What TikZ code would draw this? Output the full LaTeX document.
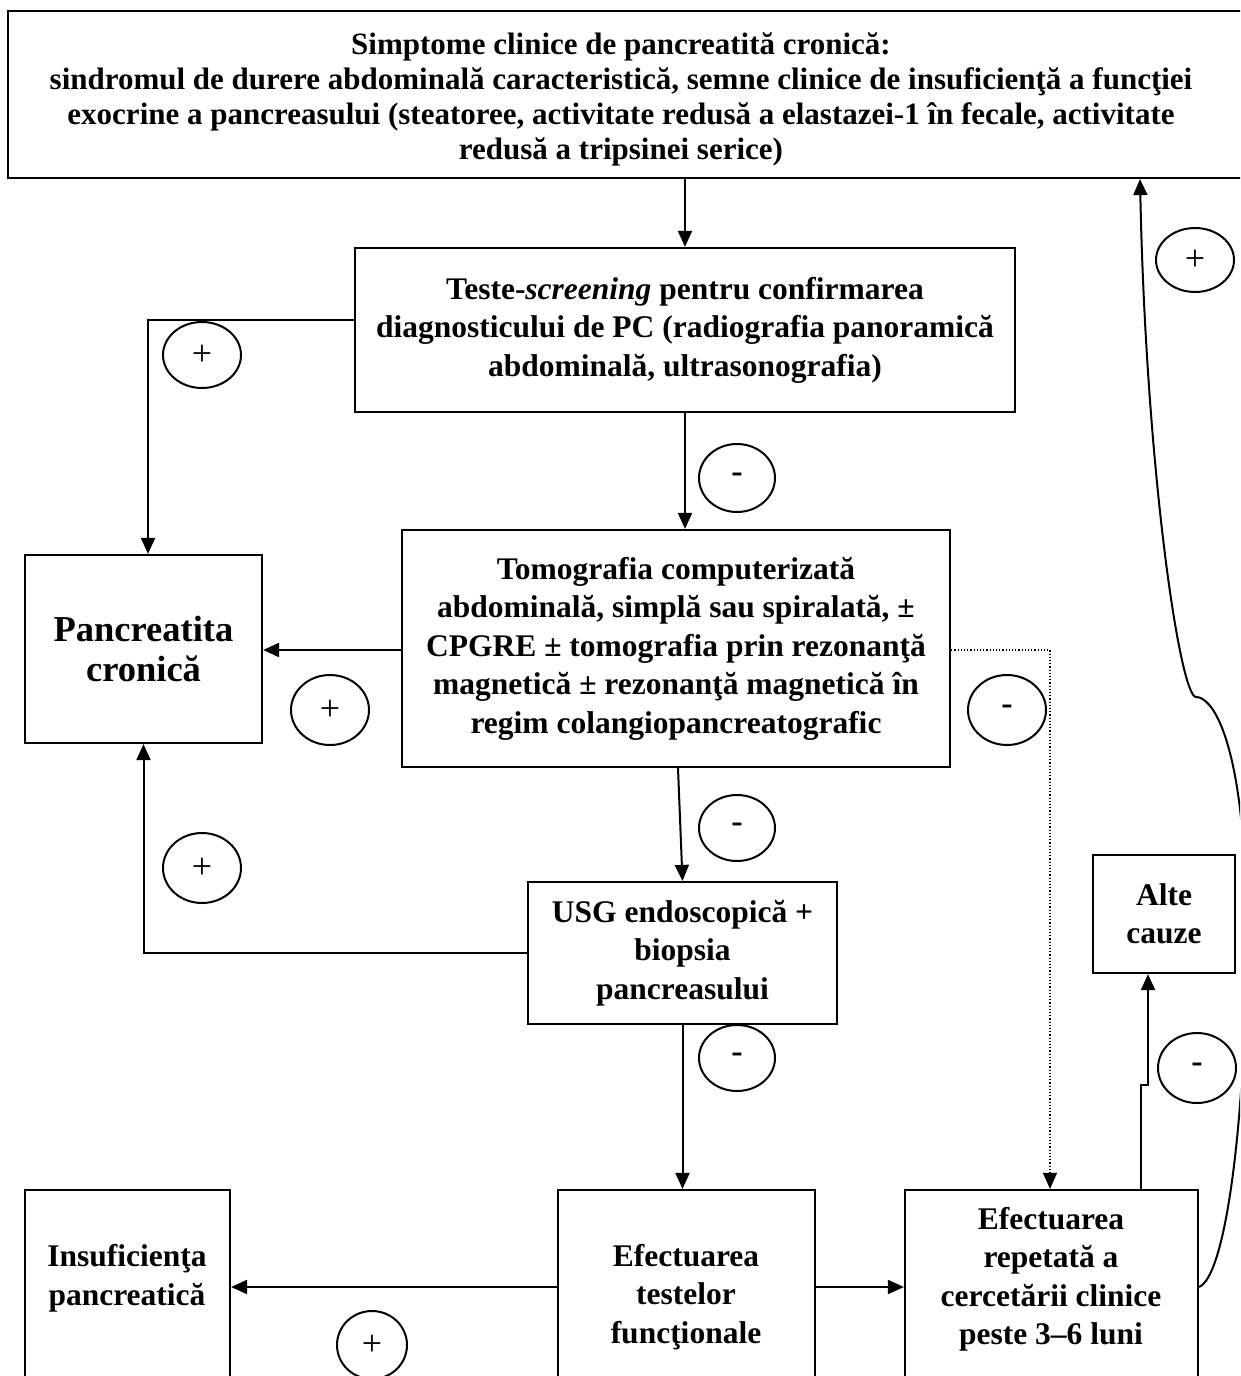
\documentclass[tikz,border=0pt]{standalone}
\usepackage{fontspec}
\setmainfont{Liberation Serif}
\usetikzlibrary{arrows.meta,shapes.geometric}
\newcommand\fbig{\fontsize{31.5}{38.5}\selectfont\bfseries}
\newcommand\ftop{\fontsize{31}{35}\selectfont\bfseries}
\newcommand\fpc{\fontsize{36.5}{40}\selectfont\bfseries}
\newcommand\mysign{\raisebox{-4pt}{-}}
\tikzset{
  box/.style={draw, line width=2.2pt, inner sep=0pt, align=center, font=\fbig},
  lbl/.style={inner sep=0pt, align=center, font=\fbig},
  arr/.style={line width=2pt, -{Triangle[length=16pt,width=14pt]}},
  dotarr/.style={line width=1.2pt, dotted, -{Triangle[length=16pt,width=14pt]}},
  sign/.style={draw, ellipse, line width=2pt, inner sep=0pt},
  plus/.style={sign, font=\fontsize{36}{36}\selectfont},
  minus/.style={sign, font=\fontsize{34}{34}\selectfont\bfseries},
}
\begin{document}
\begin{tikzpicture}[x=1pt,y=-1pt]
\useasboundingbox (0,0) rectangle (1240,1376);
\clip (0,0) rectangle (1240,1376);
\fill[white] (0,0) rectangle (1240,1376);

% boxes
\node[box, minimum width=1242pt, minimum height=167pt] (top) at (629,94.5) {};
\node[lbl, font=\ftop] (ttop) at (621,99)
  {Simptome clinice de pancreatită cronică:\\
   sindromul de durere abdominală caracteristică, semne clinice de insuficienţă a funcţiei\\
   exocrine a pancreasului (steatoree, activitate redusă a elastazei-1 în fecale, activitate\\
   redusă a tripsinei serice)};
\node[box, minimum width=660pt, minimum height=164pt] (screen) at (685,330)
  {Teste-\textit{screening} pentru confirmarea\\
   diagnosticului de PC (radiografia panoramică\\
   abdominală, ultrasonografia)};
\node[box, minimum width=548pt, minimum height=237pt] (tomo) at (676,648.5)
  {Tomografia computerizată\\
   abdominală, simplă sau spiralată, ±\\
   CPGRE ± tomografia prin rezonanţă\\
   magnetică ± rezonanţă magnetică în\\
   regim colangiopancreatografic};
\node[box, minimum width=237pt, minimum height=188pt, font=\fpc] (pc) at (143.5,649)
  {Pancreatita\\cronică};
\node[box, minimum width=309pt, minimum height=142pt] (usg) at (682.5,953)
  {USG endoscopică +\\biopsia\\pancreasului};
\node[box, minimum width=142pt, minimum height=118pt] (alte) at (1164,914)
  {Alte\\cauze};
\node[box, minimum width=205pt, minimum height=220pt] (insuf) at (127.5,1300) {};
\node[box, minimum width=257pt, minimum height=220pt] (test) at (686.5,1300) {};
\node[box, minimum width=293pt, minimum height=220pt] (rep) at (1051.5,1300) {};
\node[lbl] (tinsuf) at (127,1278) {Insuficienţa\\pancreatică};
\node[lbl] (ttest) at (686,1297) {Efectuarea\\testelor\\funcţionale};
\node[lbl] (trep) at (1051,1279) {Efectuarea\\repetată a\\cercetării clinice\\peste 3–6 luni};

% signs
\node[plus, minimum width=78pt, minimum height=64pt] (e1) at (1195,260) {+};
\node[plus, minimum width=78pt, minimum height=66pt] (e2) at (202,355) {+};
\node[minus, minimum width=76pt, minimum height=68pt] (e3) at (737,478) {\mysign};
\node[plus, minimum width=78pt, minimum height=70pt] (e4) at (330,710) {+};
\node[minus, minimum width=78pt, minimum height=70pt] (e5) at (1007,710) {\mysign};
\node[minus, minimum width=76pt, minimum height=66pt] (e6) at (737,828) {\mysign};
\node[plus, minimum width=78pt, minimum height=70pt] (e7) at (202,868) {+};
\node[minus, minimum width=76pt, minimum height=66pt] (e8) at (737,1058) {\mysign};
\node[minus, minimum width=78pt, minimum height=70pt] (e9) at (1197,1068) {\mysign};
\node[plus, minimum width=70pt, minimum height=68pt] (e10) at (372,1345) {+};

% helper coordinates
\coordinate (t4) at ([yshift=-1.5pt]tomo.west);
\coordinate (t8) at ([yshift=-1.5pt]tomo.east);
\coordinate (t9) at ([yshift=13pt]test.west);
\coordinate (t10) at ([yshift=13pt]test.east);
\coordinate (j1) at (1141,1085);
\coordinate (j2) at (1148,1085);
\coordinate (k) at (1140,0);
\coordinate (r12) at ([yshift=13pt]rep.east);

% connectors
\draw[arr] (top.south -| screen.north) -- (screen.north);
\draw[arr] ([yshift=10pt]screen.west) -| ([xshift=4.5pt]pc.north);
\draw[arr] (screen.south) -- (tomo.north -| screen.south);
\draw[arr] (t4) -- (t4 -| pc.east);
\draw[arr] ([xshift=2pt]tomo.south) -- (usg.north);
\draw[arr] (usg.west) -| (pc.south);
\draw[arr] (usg.south) -- (test.north -| usg.south);
\draw[dotarr] (t8) -| ([xshift=-1.5pt]rep.north);
\draw[arr] (t9) -- (t9 -| insuf.east);
\draw[arr] (t10) -- (t10 -| rep.west);
\draw[arr] (rep.north -| j1) -- (j1) -- (j2) -- (alte.south -| j2);
\draw[arr] (r12) .. controls (1234,1272) and (1254,1020) .. (1243,840)
  .. controls (1235,735) and (1212,697) .. (1196,697)
  .. controls (1180,697) and (1146,470) .. (top.south -| k);
\end{tikzpicture}
\end{document}
